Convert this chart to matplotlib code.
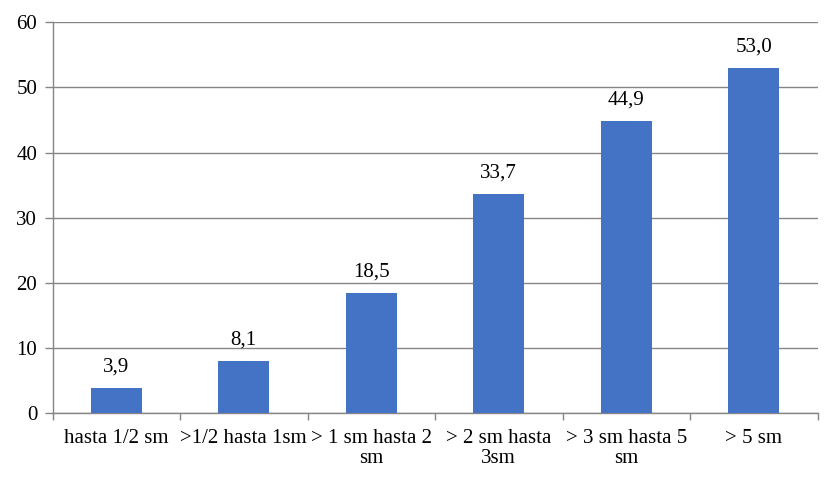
import matplotlib
matplotlib.use("Agg")
import matplotlib.pyplot as plt
import numpy as np

categories = ["hasta 1/2 sm", ">1/2 hasta 1sm", "> 1 sm hasta 2\nsm",
              "> 2 sm hasta\n3sm", "> 3 sm hasta 5\nsm", "> 5 sm"]
values = [3.9, 8.1, 18.5, 33.7, 44.9, 53.0]
yticks = [0, 10, 20, 30, 40, 50, 60]

plt.rcParams['font.family'] = ['Liberation Serif', 'DejaVu Serif']
FS = 15

fig = plt.figure(figsize=(8.4, 4.86), dpi=100)
ax = fig.add_axes([52.5/840, 1 - 413.3/486, (817.5-52.5)/840, (413.3-22.3)/486])

x = np.arange(len(categories))
bars = ax.bar(x, values, width=0.4, color="#4472C4", zorder=3)
for xi, v in zip(x, values):
    ax.annotate(f"{v:.1f}".replace(".", ","), (xi, v), xytext=(0, 8),
                textcoords="offset points", ha="center", va="bottom", fontsize=FS)

ax.set_xlim(-0.5, len(categories) - 0.5)
ax.set_ylim(0, 60)
ax.set_yticks(yticks)
ax.set_yticklabels([str(t) for t in yticks], fontsize=FS)
ax.yaxis.grid(True, color="#868686", linewidth=1, zorder=0)
ax.set_axisbelow(True)

ax.set_xticks(x)
ax.set_xticklabels(categories, fontsize=FS, linespacing=1.1)
ax.set_xticks(np.arange(len(categories) + 1) - 0.5, minor=True)
ax.tick_params(axis="x", which="major", length=0, pad=11)
ax.tick_params(axis="x", which="minor", length=5, color="#868686", width=1)
ax.tick_params(axis="y", length=6, color="#868686", width=1, pad=5)

for s in ["top", "right"]:
    ax.spines[s].set_visible(False)
for s in ["left", "bottom"]:
    ax.spines[s].set_color("#868686")
    ax.spines[s].set_linewidth(1)

fig.savefig("out.png", dpi=100)
